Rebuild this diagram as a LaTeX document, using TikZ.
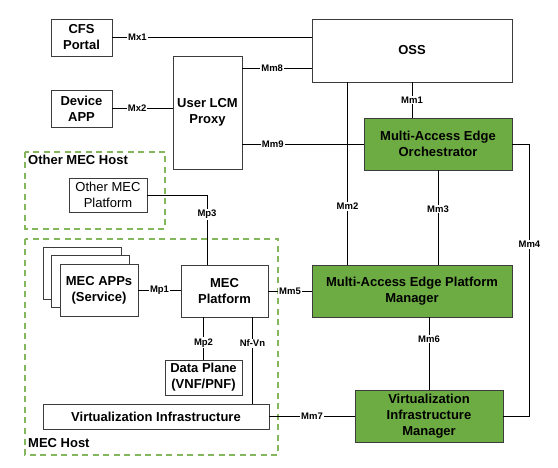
\documentclass[tikz,border=0pt]{standalone}
\usepackage{fontspec}
\setmainfont{Liberation Sans}
\usepackage{tikz}
\definecolor{mecgreen}{RGB}{108,172,66}
\definecolor{hostgreen}{RGB}{132,182,92}
\definecolor{boxline}{RGB}{60,60,60}
\tikzset{
  blk/.style={draw=boxline,line width=0.9pt,fill=white,align=center,inner sep=1pt,
    font=\fontsize{13}{16}\selectfont\bfseries},
  greenblk/.style={blk,fill=mecgreen},
  plainblk/.style={blk,font=\fontsize{13}{16}\selectfont},
  lbl/.style={fill=white,inner sep=1pt,font=\fontsize{9.5}{11}\selectfont\bfseries},
  hostframe/.style={draw=hostgreen,line width=1.3pt,dash pattern=on 6pt off 4.5pt},
  framelbl/.style={inner sep=0pt,font=\fontsize{13}{16}\selectfont\bfseries},
  wire/.style={line width=0.9pt,black}
}

\begin{document}
\begin{tikzpicture}[x=1pt,y=-1pt]
\useasboundingbox (0,0) rectangle (558,468);
% Drawing host frames
\draw[hostframe] (25,152) rectangle (165,229);
\node[framelbl,anchor=base west] (omhlbl) at (28,165) {Other MEC Host};
\draw[hostframe] (25,239) rectangle (278,455);
\node[framelbl,anchor=base west] (mhlbl) at (28,448) {MEC Host};
% Drawing boxes
\node[blk,minimum width=61pt,minimum height=37pt] (cfs) at (81.5,37.5) {CFS\\Portal};
\node[blk,minimum width=61pt,minimum height=37pt] (dev) at (81.5,108.5) {Device\\APP};
\node[blk,minimum width=69pt,minimum height=113pt] (proxy) at (207.5,112.5) {User LCM\\Proxy};
\node[blk,minimum width=200pt,minimum height=63pt] (oss) at (412,50.5) {OSS};
\node[greenblk,minimum width=148pt,minimum height=52pt] (meo) at (438,144) {Multi-Access Edge\\Orchestrator};
\node[greenblk,minimum width=200pt,minimum height=52pt] (mepm) at (412,291) {Multi-Access Edge Platform\\Manager};
\node[greenblk,minimum width=148pt,minimum height=52pt] (vim) at (429,416) {Virtualization\\Infrastructure\\Manager};
\node[plainblk,minimum width=78pt,minimum height=34pt] (omp) at (108,195) {Other MEC\\Platform};
% stacked app boxes
\node[blk,minimum width=78pt,minimum height=52pt] (appsc) at (82,273) {};
\node[blk,minimum width=78pt,minimum height=52pt] (appsb) at (90.5,281.5) {};
\node[blk,minimum width=78pt,minimum height=52pt] (apps) at (99,290) {MEC APPs\\(Service)};
\node[blk,minimum width=87pt,minimum height=52pt] (mecp) at (224.5,291) {MEC\\Platform};
\node[blk,minimum width=77pt,minimum height=35pt] (dp) at (203.5,377.5) {Data Plane\\(VNF/PNF)};
\node[blk,minimum width=226pt,minimum height=25pt] (vi) at (156,416.5) {Virtualization Infrastructure};
% Done with boxes; drawing reference points
% Mx1, Mx2
\draw[wire] (cfs.east) -- (cfs.east -| oss.west) node[lbl,pos=0.125] {Mx1};
\draw[wire] (dev.east) -- (dev.east -| proxy.west) node[lbl,pos=0.41] {Mx2};
% Mm8, Mm9
\draw[wire] ([yshift=-13pt]proxy.north east) coordinate (m8) -- (m8 -| oss.west) node[lbl,pos=0.43] {Mm8};
\draw[wire] (meo.west -| proxy.east) -- (meo.west) node[lbl,pos=0.25] {Mm9};
% Mm1, Mm2, Mm3
\draw[wire] (oss.south) -- (oss.south |- meo.north) node[lbl,midway] {Mm1};
\draw[wire] ([xshift=36pt]oss.south west) coordinate (m2) -- (m2 |- mepm.north) node[lbl,pos=0.68] {Mm2};
\draw[wire] (meo.south) -- (meo.south |- mepm.north) node[lbl,pos=0.41] {Mm3};
% Mm4
\draw[wire] (meo.east) -- ++(17,0) coordinate (m4) -- (m4 |- vim.east) node[lbl,pos=0.37] {Mm4} -- (vim.east);
% Mm5, Mm6, Mm7
\draw[wire] (mecp.east) -- (mecp.east -| mepm.west) node[lbl,midway] {Mm5};
\draw[wire] (vim.north) -- (vim.north |- mepm.south) node[lbl,pos=0.7] {Mm6};
\draw[wire] (vi.east) -- (vi.east -| vim.west) node[lbl,midway] {Mm7};
% Mp1, Mp2, Mp3, Nf-Vn
\draw[wire] (apps.east) -- (apps.east -| mecp.west) node[lbl,midway] {Mp1};
\draw[wire] (dp.north) -- (dp.north |- mecp.south) node[lbl,pos=0.4] {Mp2};
\draw[wire] (omp.east) -| ([xshift=-17.5pt]mecp.north) node[lbl,pos=0.64] {Mp3};
\draw[wire] ([xshift=-16pt]mecp.south east) coordinate (nf) -- (nf |- vi.north) node[lbl,pos=0.3] {Nf-Vn};
% Done with reference points
\end{tikzpicture}
\end{document}
